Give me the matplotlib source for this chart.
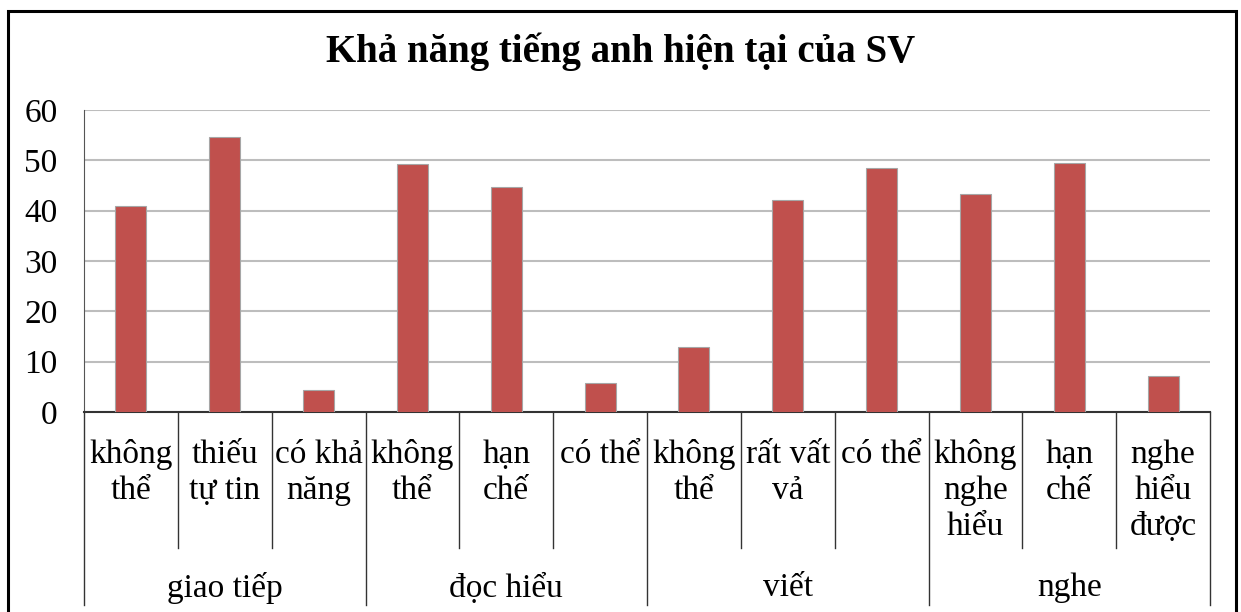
import matplotlib.pyplot as plt
from matplotlib.lines import Line2D
from matplotlib.patches import Rectangle

plt.rcParams['font.family'] = ['Liberation Serif', 'DejaVu Serif']

# data
groups = ['giao tiếp', 'đọc hiểu', 'viết', 'nghe']
group_sizes = [3, 3, 3, 3]
categories = ['không\nthể', 'thiếu\ntự tin', 'có khả\nnăng',
              'không\nthể', 'hạn\nchế', 'có thể',
              'không\nthể', 'rất vất\nvả', 'có thể',
              'không\nnghe\nhiểu', 'hạn\nchế', 'nghe\nhiểu\nđược']
values = [41.0, 54.6, 4.4, 49.3, 44.8, 5.8, 13.0, 42.2, 48.4, 43.3, 49.5, 7.2]

fig = plt.figure(figsize=(12.41, 6.12), dpi=100)
ax = fig.add_axes([84 / 1241, 1 - 412 / 612, (1210 - 84) / 1241, 302 / 612])

x = list(range(len(values)))
ax.bar(x, values, width=0.33, color='#C0504D', edgecolor='#a6a6a6', linewidth=0.8, zorder=3)

ax.set_xlim(-0.5, len(values) - 0.5)
ax.set_ylim(0, 60)
ax.set_yticks(range(0, 61, 10))
ax.tick_params(axis='y', length=0, pad=19, labelsize=24)
ax.set_xticks([])
ax.yaxis.grid(True, color='#bdbdbd', linewidth=1.5, zorder=0)
for s in ['top', 'right']:
    ax.spines[s].set_visible(False)
ax.spines['left'].set_color('#555555')
ax.spines['bottom'].set_color('#333333')
ax.spines['bottom'].set_linewidth(1.5)

# multi-level category axis
tr = ax.get_xaxis_transform()
for i, lab in enumerate(categories):
    ax.text(i, -0.09, lab, transform=tr, ha='center', va='top',
            fontsize=24, linespacing=1.24)
bounds = [0]
for n in group_sizes:
    bounds.append(bounds[-1] + n)
for i in range(len(values) + 1):
    bottom = -0.64 if i in bounds else -0.45
    ax.add_line(Line2D([i - 0.5, i - 0.5], [0, bottom], transform=tr,
                       color='#333333', linewidth=1.0, clip_on=False))
for g, name in enumerate(groups):
    mid = (bounds[g] + bounds[g + 1]) / 2 - 0.5
    ax.text(mid, -0.583, name, transform=tr, ha='center', va='center', fontsize=24)

fig.text(0.5, 1 - 52 / 612, 'Khả năng tiếng anh hiện tại của SV', ha='center',
         va='center', fontsize=28, fontweight='bold')

# outer chart frame
fig.patches.append(Rectangle((8 / 1241, -0.05), (1236 - 8) / 1241, 1.05 - 11 / 612,
                             transform=fig.transFigure, fill=False,
                             edgecolor='black', linewidth=2.2))

fig.savefig('out.png', dpi=100)
